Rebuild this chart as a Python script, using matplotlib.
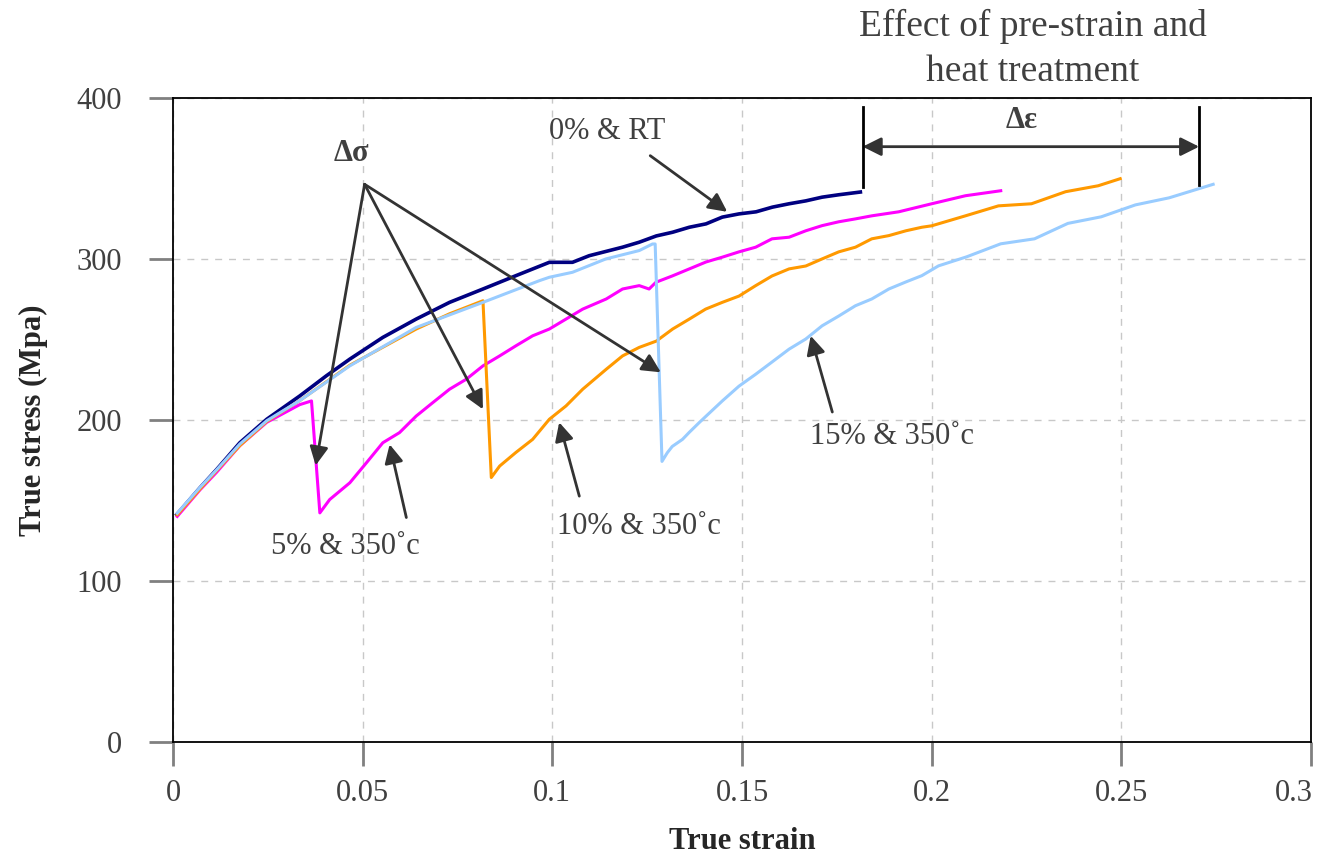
import matplotlib
matplotlib.use("Agg")
import matplotlib.pyplot as plt
import matplotlib.transforms as mtransforms

plt.rcParams['font.family'] = ['Liberation Serif', 'DejaVu Serif']

# ---- data ----
rt_strain = [0.0010, 0.0071, 0.0115, 0.0176, 0.0247, 0.0334, 0.0404, 0.0466, 0.0553,
             0.0641, 0.0729, 0.0817, 0.0904, 0.0992, 0.1053, 0.1097, 0.1185, 0.1229,
             0.1274, 0.1317, 0.1361, 0.1405, 0.1448, 0.1492, 0.1537, 0.1580, 0.1624,
             0.1668, 0.1711, 0.1755, 0.1812]
rt_stress = [141.2, 157.8, 169.2, 185.8, 200.4, 214.9, 227.4, 237.8, 251.3,
             262.7, 273.1, 281.4, 289.7, 298.0, 298.0, 302.1, 307.4, 310.5,
             314.4, 316.7, 319.8, 321.9, 326.1, 328.1, 329.4, 332.3, 334.4,
             336.2, 338.5, 340.0, 341.7]

p5_strain = [0.0011, 0.0071, 0.0115, 0.0176, 0.0247, 0.0334, 0.0365, 0.0387, 0.0413,
             0.0466, 0.0510, 0.0553, 0.0597, 0.0641, 0.0685, 0.0729, 0.0773, 0.0817,
             0.0861, 0.0904, 0.0948, 0.0992, 0.1036, 0.1080, 0.1142, 0.1185, 0.1229,
             0.1255, 0.1273, 0.1316, 0.1361, 0.1405, 0.1448, 0.1492, 0.1536, 0.1579,
             0.1624, 0.1668, 0.1711, 0.1755, 0.1799, 0.1842, 0.1913, 0.2000, 0.2089,
             0.2182]
p5_stress = [140.0, 156.5, 167.5, 184.0, 198.5, 209.5, 211.8, 142.2, 150.5,
             160.9, 173.4, 185.8, 192.1, 202.4, 210.8, 219.1, 225.3, 233.6,
             239.8, 246.1, 252.3, 256.5, 262.7, 268.9, 275.2, 281.4, 283.5,
             281.4, 285.6, 289.5, 293.9, 298.2, 301.2, 304.5, 307.4, 312.6,
             313.6, 317.6, 320.8, 323.2, 325.0, 326.9, 329.4, 334.4, 339.4,
             342.5]

p10_strain = [0.0011, 0.0071, 0.0115, 0.0176, 0.0247, 0.0334, 0.0466, 0.0641, 0.0729,
              0.0817, 0.0839, 0.0861, 0.0904, 0.0948, 0.0992, 0.1036, 0.1080, 0.1142,
              0.1185, 0.1229, 0.1274, 0.1317, 0.1361, 0.1404, 0.1448, 0.1492, 0.1536,
              0.1579, 0.1624, 0.1668, 0.1711, 0.1755, 0.1799, 0.1842, 0.1887, 0.1932,
              0.1974, 0.2000, 0.2089, 0.2176, 0.2263, 0.2353, 0.2439, 0.2497]
p10_stress = [141.0, 157.0, 168.5, 184.0, 199.0, 212.0, 234.0, 256.5, 266.0,
              274.1, 164.2, 171.3, 179.8, 187.9, 200.4, 208.7, 219.1, 231.5,
              239.8, 245.1, 249.0, 256.5, 262.7, 268.9, 273.1, 277.0, 283.5,
              289.5, 293.9, 295.7, 300.1, 304.5, 307.4, 312.6, 314.6, 317.6,
              319.8, 320.7, 326.9, 333.1, 334.4, 341.9, 345.6, 350.0]

p15_strain = [0.0011, 0.0071, 0.0115, 0.0176, 0.0247, 0.0334, 0.0466, 0.0641, 0.0817,
              0.0966, 0.0992, 0.1053, 0.1141, 0.1229, 0.1264, 0.1271, 0.1289, 0.1303,
              0.1316, 0.1343, 0.1361, 0.1387, 0.1405, 0.1448, 0.1492, 0.1536, 0.1579,
              0.1624, 0.1668, 0.1711, 0.1755, 0.1799, 0.1842, 0.1887, 0.1932, 0.1974,
              0.2018, 0.2092, 0.2182, 0.2271, 0.2359, 0.2447, 0.2537, 0.2626, 0.2742]
p15_stress = [142.0, 158.0, 169.0, 185.0, 199.5, 212.0, 233.6, 257.5, 273.1,
              286.6, 288.7, 291.8, 300.1, 305.3, 309.4, 309.4, 174.2, 179.6,
              183.5, 187.9, 192.3, 198.3, 202.3, 211.8, 221.0, 228.4, 236.0,
              244.0, 250.3, 258.5, 264.6, 271.0, 275.2, 281.4, 285.8, 289.7,
              295.8, 301.4, 309.5, 312.6, 322.2, 326.3, 333.7, 338.1, 346.5]

x_ticks = [0, 0.05, 0.1, 0.15, 0.2, 0.25, 0.3]
x_tick_labels = ['0', '0.05', '0.1', '0.15', '0.2', '0.25', '0.3']
y_ticks = [0, 100, 200, 300, 400]

# ---- figure ----
fig = plt.figure(figsize=(13.24, 8.56), dpi=100)
ax = fig.add_axes([0.1307, 0.1337, 0.8595, 0.7515])

ax.plot(rt_strain, rt_stress, color='#000080', lw=2.6, zorder=3)
ax.plot(p5_strain, p5_stress, color='#FF00FF', lw=2.2, zorder=3)
ax.plot(p10_strain, p10_stress, color='#FF9900', lw=2.2, zorder=3)
ax.plot(p15_strain, p15_stress, color='#99CCFF', lw=2.2, zorder=3)

ax.set_xlim(0, 0.3)
ax.set_ylim(0, 400)
ax.set_xticks(x_ticks)
ax.set_xticklabels(x_tick_labels)
ax.set_yticks(y_ticks)
ax.grid(True, color='#c8c8c8', ls=(0, (5, 5)), lw=1.0, zorder=0)
for s in ax.spines.values():
    s.set_color('black')
    s.set_linewidth(1.3)
ax.tick_params(axis='both', direction='out', length=17, width=2, color='#808080',
               labelsize=22, labelcolor='#404040')
ax.tick_params(axis='y', pad=20)
ax.tick_params(axis='x', pad=10)

# keep the last x tick label inside the figure
last = ax.get_xticklabels()[-1]
last.set_transform(last.get_transform() +
                   mtransforms.ScaledTranslation(-12 / 72, 0, fig.dpi_scale_trans))

ax.set_xlabel('True strain', fontsize=22, fontweight='bold', color='#262626', labelpad=14)
ax.set_ylabel('True stress (Mpa)', fontsize=22, fontweight='bold', color='#262626', labelpad=20)

arrow_kw = dict(arrowstyle='-|>', color='#333333', lw=2, mutation_scale=28,
                shrinkA=0, shrinkB=0)
txt_kw = dict(fontsize=22, color='#404040', ha='center', va='center')

# delta sigma
ax.text(0.0471, 365.5, 'Δσ', fontsize=22, fontweight='bold', color='#404040',
        ha='center', va='center')
for tip in [(0.0376, 171.7), (0.0817, 206.6), (0.1286, 229.6)]:
    ax.annotate('', xy=tip, xytext=(0.0505, 346.5), arrowprops=arrow_kw)

# labels with arrows
ax.annotate('', xy=(0.1461, 329.4), xytext=(0.1258, 364.3), arrowprops=arrow_kw)
ax.text(0.1145, 379.2, '0% & RT', **txt_kw)

ax.annotate('', xy=(0.0571, 184.8), xytext=(0.0615, 139.3), arrowprops=arrow_kw)
ax.text(0.0453, 121.2, '5% & 350˚c', **txt_kw)

ax.annotate('', xy=(0.1018, 198.5), xytext=(0.1071, 152.6), arrowprops=arrow_kw)
ax.text(0.1229, 133.7, '10% & 350˚c', **txt_kw)

ax.annotate('', xy=(0.1681, 252.3), xytext=(0.1738, 204.9), arrowprops=arrow_kw)
ax.text(0.1895, 189.8, '15% & 350˚c', **txt_kw)

# delta epsilon dimension
ax.plot([0.1818, 0.1818], [345.0, 394.8], color='black', lw=2, zorder=4)
ax.plot([0.2705, 0.2705], [346.2, 394.8], color='black', lw=2, zorder=4)
ax.annotate('', xy=(0.2705, 369.9), xytext=(0.1818, 369.9),
            arrowprops=dict(arrowstyle='<|-|>', color='#333333', lw=2,
                            mutation_scale=28, shrinkA=0, shrinkB=0))
ax.text(0.2237, 386.0, 'Δε', fontsize=22, fontweight='bold', color='#404040',
        ha='center', va='center')

fig.text(0.780, 0.943, 'Effect of pre-strain and\nheat treatment', fontsize=27,
         color='#404040', ha='center', va='center', linespacing=1.4)

fig.savefig('out.png', dpi=100)
